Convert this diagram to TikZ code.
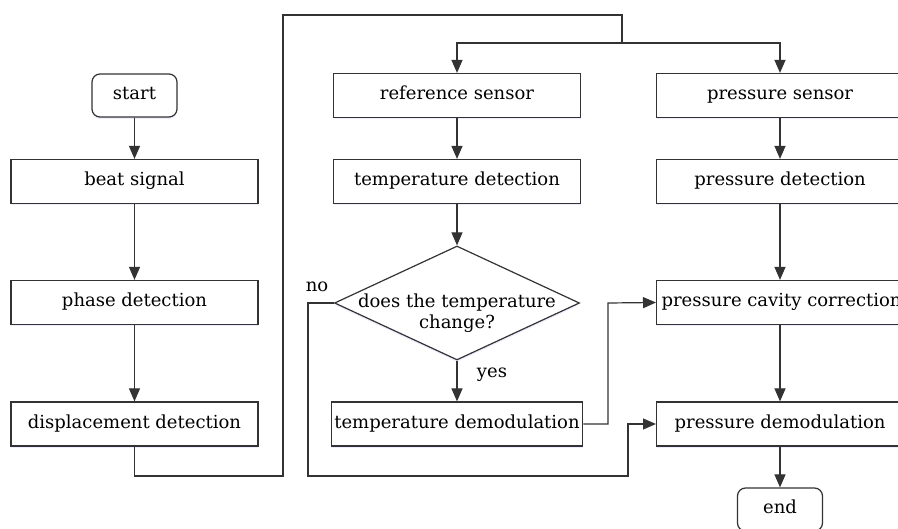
\documentclass[tikz,border=0pt]{standalone}
\usepackage{fontspec}
\setmainfont{DejaVu Serif}
\usetikzlibrary{arrows.meta,shapes.geometric,shadows}

\begin{document}
\begin{tikzpicture}[
  x=1pt,y=-1pt,
  font=\fontsize{18}{21}\selectfont,
  line/.style={draw=black!80,line width=1.2pt},
  arrow/.style={line,-{Triangle[length=13pt,width=11pt]}},
  shade/.style={drop shadow={shadow xshift=0pt,shadow yshift=-2pt,fill=blue!20,opacity=0.35}},
  box/.style={draw=black!80,line width=1.2pt,fill=white,minimum width=247pt,minimum height=44pt,
    inner sep=3pt,text height=13pt,text depth=4pt,shade},
  term/.style={box,rounded corners=8pt,minimum width=85pt,minimum height=43pt},
  decision/.style={diamond,draw=black!80,line width=1.2pt,fill=white,minimum width=245pt,minimum height=114pt,inner sep=0pt,shade}
]
  \useasboundingbox (0,0) rectangle (898,529);

  % left column
  \node[term] (start) at (134.5,95.5)  {start};
  \node[box]  (beat)  at (134.5,181.5) {beat signal};
  \node[box]  (phase) at (134.5,302.5) {phase detection};
  \node[box]  (disp)  at (134.5,424)   {displacement detection};

  % middle column
  \node[box]      (refs)   at (457,95.5)  {reference sensor};
  \node[box]      (tdet)   at (457,181.5) {temperature detection};
  \node[decision] (dec)    at (457,303)   {};
  \node[align=center] (dectext) at (457,313) {does the temperature\\change?};
  \node[box]      (tdemod) at (457,424)   {temperature demodulation};

  % right column
  \node[box,anchor=west] (psens)  at (656,95.5)  {pressure sensor};
  \node[box,anchor=west] (pdet)   at (656,181.5) {pressure detection};
  \node[box,anchor=west,inner xsep=5pt] (pcav) at (656,302.5) {pressure cavity correction};
  \node[box,anchor=west] (pdemod) at (656,424)   {pressure demodulation};
  \node[term] (end) at (780,509.5) {end};

  \node (lblno)  at (317,287) {no};
  \node (lblyes) at (492,375) {yes};

  \coordinate (loopA) at (283,476);
  \coordinate (loopB) at (283,15);
  \coordinate (split) at (622,43);
  \coordinate (noA)   at (308,476);
  \coordinate (noB)   at (628,424);
  \coordinate (yesA)  at (608,303);

  \draw[arrow] (start) -- (beat);
  \draw[arrow] (beat) -- (phase);
  \draw[arrow] (phase) -- (disp);
  \draw[line] (disp.south) |- (loopA) -- (loopB) -| (split);
  \draw[arrow] (split) -| (refs.north);
  \draw[arrow] (split) -| (psens.north -| end);

  \draw[arrow] (refs) -- (tdet);
  \draw[arrow] (tdet) -- (dec.north);
  \draw[arrow] (dec.south) -- (tdemod);
  \draw[arrow] (dec.west) -| (noA) -| (noB) -- (pdemod.west);
  \draw[arrow] (tdemod.east) -| (yesA) -- (pcav.west);

  \draw[arrow] (psens.south -| end) -- (pdet.north -| end);
  \draw[arrow] (pdet.south -| end) -- (pcav.north -| end);
  \draw[arrow] (pcav.south -| end) -- (pdemod.north -| end);
  \draw[arrow] (pdemod.south -| end) -- (end);
\end{tikzpicture}
\end{document}
